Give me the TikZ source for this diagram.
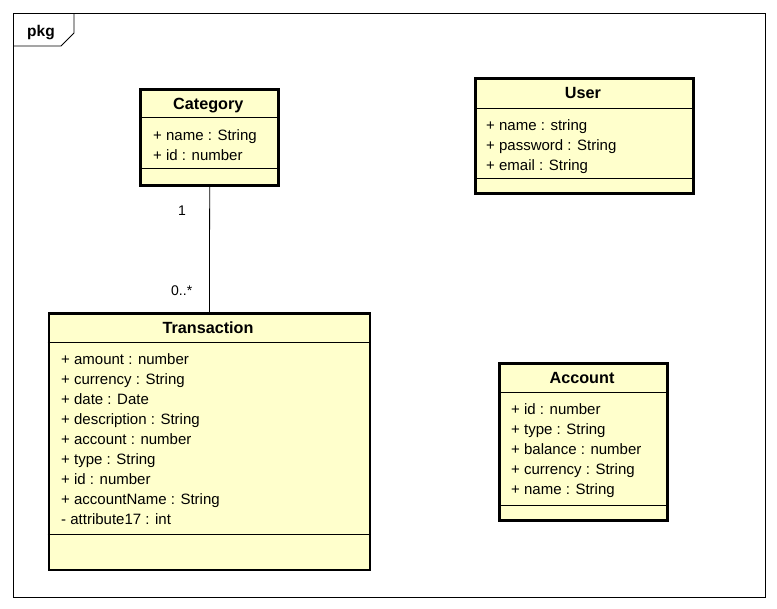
\documentclass[tikz,border=0pt]{standalone}
\usepackage{fontspec}
\setmainfont{Liberation Sans}
\begin{document}
\begin{tikzpicture}[x=1pt,y=-1pt,
  classbox/.style={draw=black,line width=2.8pt,fill=umlfill,anchor=north west,inner sep=0pt},
  sepline/.style={draw=black,line width=0.8pt},
  title/.style={anchor=base,inner sep=0pt,font=\fontsize{16.2}{19}\selectfont\bfseries},
  attr/.style={anchor=base west,inner sep=0pt,font=\fontsize{15}{18}\selectfont},
  mult/.style={anchor=base west,inner sep=0pt,font=\fontsize{14}{17}\selectfont},
  frame/.style={draw=black,line width=0.8pt}]
\definecolor{umlfill}{RGB}{255,255,204}
\useasboundingbox (0,0) rectangle (777,609);
% package frame
\draw[frame] (13.5,13.5) rectangle (765.5,597.5);
\draw[frame] (13.5,46) -- (61,46) -- (74,33) -- (74,13.5);
\node[anchor=base west,inner sep=0pt,font=\fontsize{15.5}{18}\selectfont\bfseries] (pkg) at (27,37) {pkg};

% Category
\node[classbox,minimum width=138pt,minimum height=96pt] (cat) at (139.3,88) {};
\draw[sepline] (139.3,117) -- (277.3,117);
\draw[sepline] (139.3,168) -- (277.3,168);
\node[title] (catt) at (208.3,110) {Category};
\node[attr] (cat1) at (153,141) {+ name : String};
\node[attr] (cat2) at (153,161) {+ id : number};

% User
\node[classbox,minimum width=218pt,minimum height=115pt] (usr) at (474,77.5) {};
\draw[sepline] (474,108) -- (692,108);
\draw[sepline] (474,178) -- (692,178);
\node[title] (usrt) at (583,99) {User};
\node[attr] (usr1) at (486,131) {+ name : string};
\node[attr] (usr2) at (486,151) {+ password : String};
\node[attr] (usr3) at (486,171) {+ email : String};

% Transaction
\node[classbox,minimum width=321pt,minimum height=256pt] (tra) at (47.5,312.5) {};
\draw[sepline] (47.5,342) -- (368.5,342);
\draw[sepline] (47.5,534) -- (368.5,534);
\node[title] (trat) at (208,334) {Transaction};
\node[attr] (tra1) at (61,365) {+ amount : number};
\node[attr] (tra2) at (61,385) {+ currency : String};
\node[attr] (tra3) at (61,405) {+ date : Date};
\node[attr] (tra4) at (61,425) {+ description : String};
\node[attr] (tra5) at (61,445) {+ account : number};
\node[attr] (tra6) at (61,465) {+ type : String};
\node[attr] (tra7) at (61,485) {+ id : number};
\node[attr] (tra8) at (61,505) {+ accountName : String};
\node[attr] (tra9) at (61,525) {- attribute17 : int};

% Account
\node[classbox,minimum width=168pt,minimum height=157pt] (acc) at (498,362.5) {};
\draw[sepline] (498,392) -- (666,392);
\draw[sepline] (498,505) -- (666,505);
\node[title] (acct) at (582,384) {Account};
\node[attr] (acc1) at (511,415) {+ id : number};
\node[attr] (acc2) at (511,435) {+ type : String};
\node[attr] (acc3) at (511,455) {+ balance : number};
\node[attr] (acc4) at (511,475) {+ currency : String};
\node[attr] (acc5) at (511,495) {+ name : String};

% association
\draw[line width=0.8pt] (cat.south) -- (tra.north);
\node[mult] (m1) at (178,216) {1};
\node[mult] (m2) at (171,296) {0..*};
\end{tikzpicture}
\end{document}
